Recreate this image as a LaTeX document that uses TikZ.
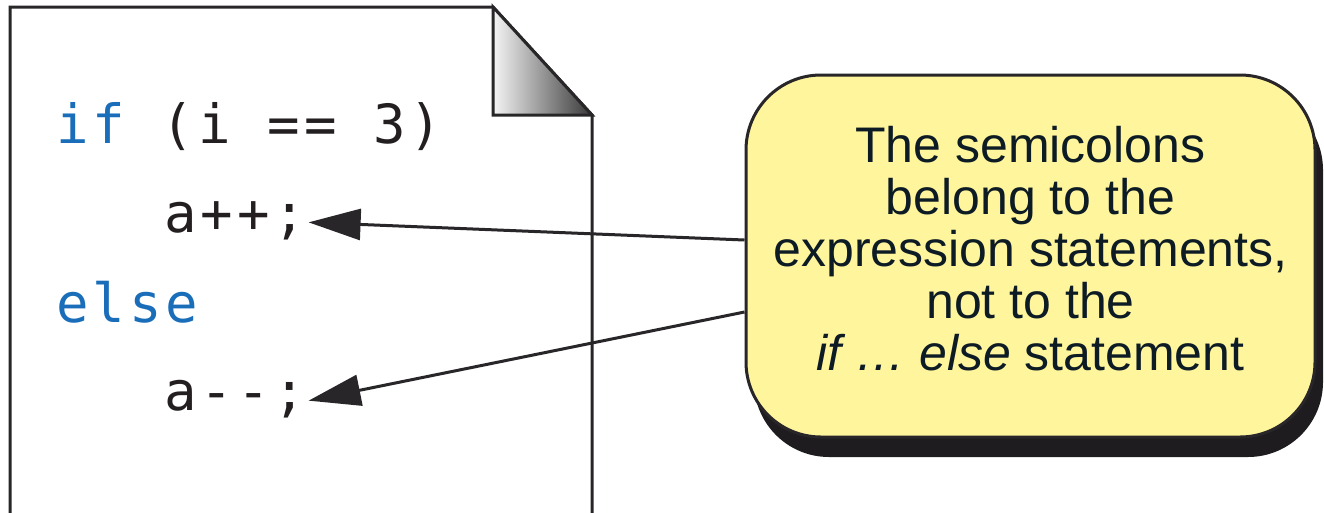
\documentclass[tikz,border=0pt]{standalone}
\usepackage{fontspec}
\setmainfont{Liberation Sans}
\newfontfamily\codefont[LetterSpace=7.5]{DejaVu Sans Mono}
\usetikzlibrary{arrows.meta,shadows,calc}
\definecolor{codeblue}{RGB}{26,110,185}
\definecolor{codegray}{RGB}{35,31,32}
\definecolor{lineink}{RGB}{40,38,40}
\definecolor{noteyellow}{RGB}{255,245,157}
\definecolor{noteink}{RGB}{13,27,36}
\definecolor{shadowink}{RGB}{30,28,30}
\tikzset{
  pageline/.style={draw=lineink, line width=3pt, line join=miter},
  codeline/.style={anchor=base west, inner sep=0pt, text=codegray,
    font=\codefont\fontsize{54}{66}\selectfont},
  notebox/.style={draw=lineink, line width=3pt, fill=noteyellow,
    rounded corners=75pt, minimum width=569pt, minimum height=362pt,
    inner sep=0pt,
    drop shadow={shadow xshift=8pt, shadow yshift=-20pt, fill=shadowink, opacity=1}},
  notetext/.style={align=center, inner sep=0pt, text=noteink,
    font=\fontsize{50}{52}\selectfont},
  pointer/.style={draw=lineink, line width=3pt,
    -{Triangle[length=52pt, width=31pt]}}
}
\begin{document}
\begin{tikzpicture}[x=1pt, y=-1pt]
\useasboundingbox (0,0) rectangle (1324,512);
% page with folded corner
\draw[pageline] (10,520) -- (10,7) -- (493,7) -- (592,115) -- (592,520);
\shade[left color=gray!8, right color=black!78] (493,7) -- (493,115) -- (592,115) -- cycle;
\draw[pageline] (493,7) -- (493,115) -- (592,115) -- cycle;
% code
\node[codeline] (ifline) at (56,143) {\textcolor{codeblue}{if} (i == 3)};
\node[codeline] (inc) at (164,232) {a++;};
\node[codeline] (elseline) at (56,322) {\textcolor{codeblue}{else}};
\node[codeline] (dec) at (164,410) {a-{}-;};
% callout
\node[notebox] (note) at (1030.5,256) {};
\node[notetext] (notetxt) at ([yshift=7pt]note.center)
  {The semicolons\\belong to the\\expression statements,\\not to the\\\textit{if … else} statement};
% pointers
\draw[pointer] ([yshift=16pt]note.west) -- ([xshift=2pt,yshift=-2pt]inc.east);
\draw[pointer] ([yshift=-56pt]note.west) -- ([xshift=2pt,yshift=-2pt]dec.east);
\end{tikzpicture}
\end{document}
